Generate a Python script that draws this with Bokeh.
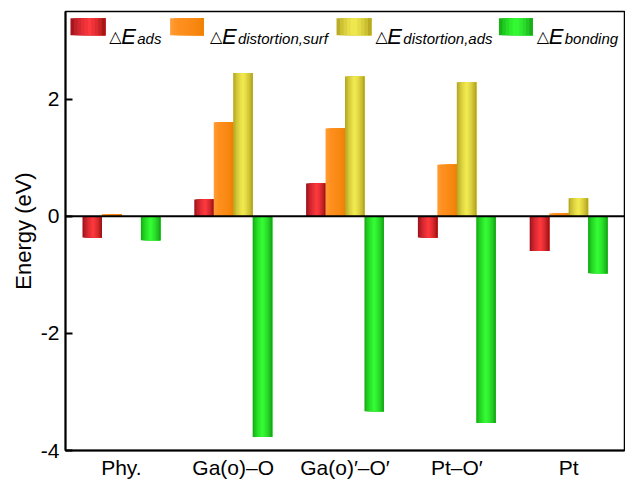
from bokeh.plotting import figure
from bokeh.models import (ColumnDataSource, FactorRange, FixedTicker, Span, Label,
                          BoxAnnotation)
from bokeh.transform import dodge
from bokeh.embed import file_html
from bokeh.resources import INLINE

# ---------------- data ----------------
categories = ["Phy.", "Ga(o)–O", "Ga(o)′–O′", "Pt–O′", "Pt"]
e_ads = [-0.36, 0.29, 0.56, -0.36, -0.59]
e_dist_surf = [0.04, 1.61, 1.50, 0.88, 0.05]
e_dist_ads = [0.0, 2.45, 2.39, 2.29, 0.31]
e_bonding = [-0.41, -3.77, -3.33, -3.53, -0.97]
series_subscripts = ["ads", "distortion,surf", "distortion,ads", "bonding"]
y_ticks = [-4, -2, 0, 2]

FONT = "Liberation Sans"

# colour profiles (left edge, centre, right edge, position of highlight)
profiles = [
    ("#8a0a14", "#ff3a3f", "#880a0a", 0.55),
    ("#ffa23e", "#ff9020", "#ee7e00", 0.25),
    ("#a89818", "#f4ec52", "#a49414", 0.5),
    ("#0c9a0c", "#36ff36", "#129212", 0.5),
]


def hex2rgb(h):
    h = h.lstrip("#")
    return tuple(int(h[i:i + 2], 16) for i in (0, 2, 4))


def mix(c1, c2, t):
    a, b = hex2rgb(c1), hex2rgb(c2)
    return "#%02x%02x%02x" % tuple(int(round(a[i] + (b[i] - a[i]) * t)) for i in range(3))


def shade(profile, t):
    left, centre, right, peak = profile
    if t < peak:
        s = (t / peak) ** 0.6
        return mix(left, centre, s)
    s = ((1 - t) / (1 - peak)) ** 0.6
    return mix(right, centre, s)


p = figure(width=625, height=481, x_range=FactorRange(*categories, range_padding=0),
           y_range=(-4, 3.5), output_backend="svg", toolbar_location=None,
           min_border_left=65, min_border_right=1, min_border_top=11, min_border_bottom=31)
p.background_fill_color = "white"
p.border_fill_color = "white"
p.xgrid.visible = False
p.ygrid.visible = False
p.outline_line_color = "black"
p.outline_line_width = 1.5

bar_w = 0.174
N = 14
all_series = [e_ads, e_dist_surf, e_dist_ads, e_bonding]
for si, vals in enumerate(all_series):
    src = ColumnDataSource(dict(x=categories, top=vals))
    base = (si - 1.5) * bar_w
    sw = bar_w / N
    # each strip spans from its left edge to the bar's right edge, so that
    # later strips overwrite earlier ones without leaving gaps
    for k in range(N):
        t = (k + 0.5) / N
        left = base - bar_w / 2 + k * sw
        right = base + bar_w / 2
        p.vbar(x=dodge("x", (left + right) / 2, range=p.x_range), top="top", bottom=0,
               width=right - left, source=src, fill_color=shade(profiles[si], t),
               line_color=None)

p.add_layout(Span(location=0, dimension="width", line_color="black", line_width=2))

# axes
p.yaxis.ticker = FixedTicker(ticks=y_ticks)
p.yaxis.major_label_overrides = {t: str(t) for t in y_ticks}
p.yaxis.major_tick_in = 7
p.yaxis.major_tick_out = 0
p.yaxis.major_tick_line_width = 2
p.yaxis.minor_tick_line_color = None
p.yaxis.axis_line_width = 2
p.yaxis.major_label_text_font = FONT
p.yaxis.major_label_text_font_size = "21px"
p.yaxis.major_label_text_color = "black"
p.yaxis.major_label_standoff = 6
p.yaxis.axis_label = "Energy (eV)"
p.yaxis.axis_label_text_font = FONT
p.yaxis.axis_label_text_font_size = "22px"
p.yaxis.axis_label_text_font_style = "normal"
p.yaxis.axis_label_text_color = "black"
p.yaxis.axis_label_standoff = 2

p.xaxis.major_tick_line_color = None
p.xaxis.minor_tick_line_color = None
p.xaxis.axis_line_width = 2
p.xaxis.major_label_text_font = FONT
p.xaxis.major_label_text_font_size = "21px"
p.xaxis.major_label_text_color = "black"
p.xaxis.major_label_standoff = -1

# ---------------- legend (manual, with subscripts) ----------------
def px2x(px):
    return (px - 65) / 112.2


def py2y(py):
    return (216 - py) / 58.5


swatch_px = [(70, 105), (170, 204), (337, 372), (500, 534)]
text_px = [110, 211, 377, 539]
NS = 10
for si in range(4):
    x0, x1 = swatch_px[si]
    w = (x1 - x0) / NS
    for k in range(NS):
        t = (k + 0.5) / NS
        p.add_layout(BoxAnnotation(left=px2x(x0 + k * w), right=px2x(x1),
                                   top=py2y(18), bottom=py2y(35),
                                   fill_color=shade(profiles[si], t), fill_alpha=1,
                                   line_alpha=0, level="overlay"))
    tx = text_px[si]
    p.add_layout(Label(x=px2x(tx - 1), y=py2y(36), text="△", text_font="DejaVu Sans",
                       text_font_style="italic", text_font_size="16px",
                       text_baseline="alphabetic", text_color="black"))
    p.add_layout(Label(x=px2x(tx + 11), y=py2y(36), text="E", text_font=FONT,
                       text_font_style="italic", text_font_size="22px",
                       text_baseline="alphabetic", text_color="black"))
    p.add_layout(Label(x=px2x(tx + 27), y=py2y(38.5), text=series_subscripts[si],
                       text_font=FONT, text_font_style="italic", text_font_size="15px",
                       text_baseline="alphabetic", text_color="black"))

open("out.html", "w").write(file_html(p, INLINE))
